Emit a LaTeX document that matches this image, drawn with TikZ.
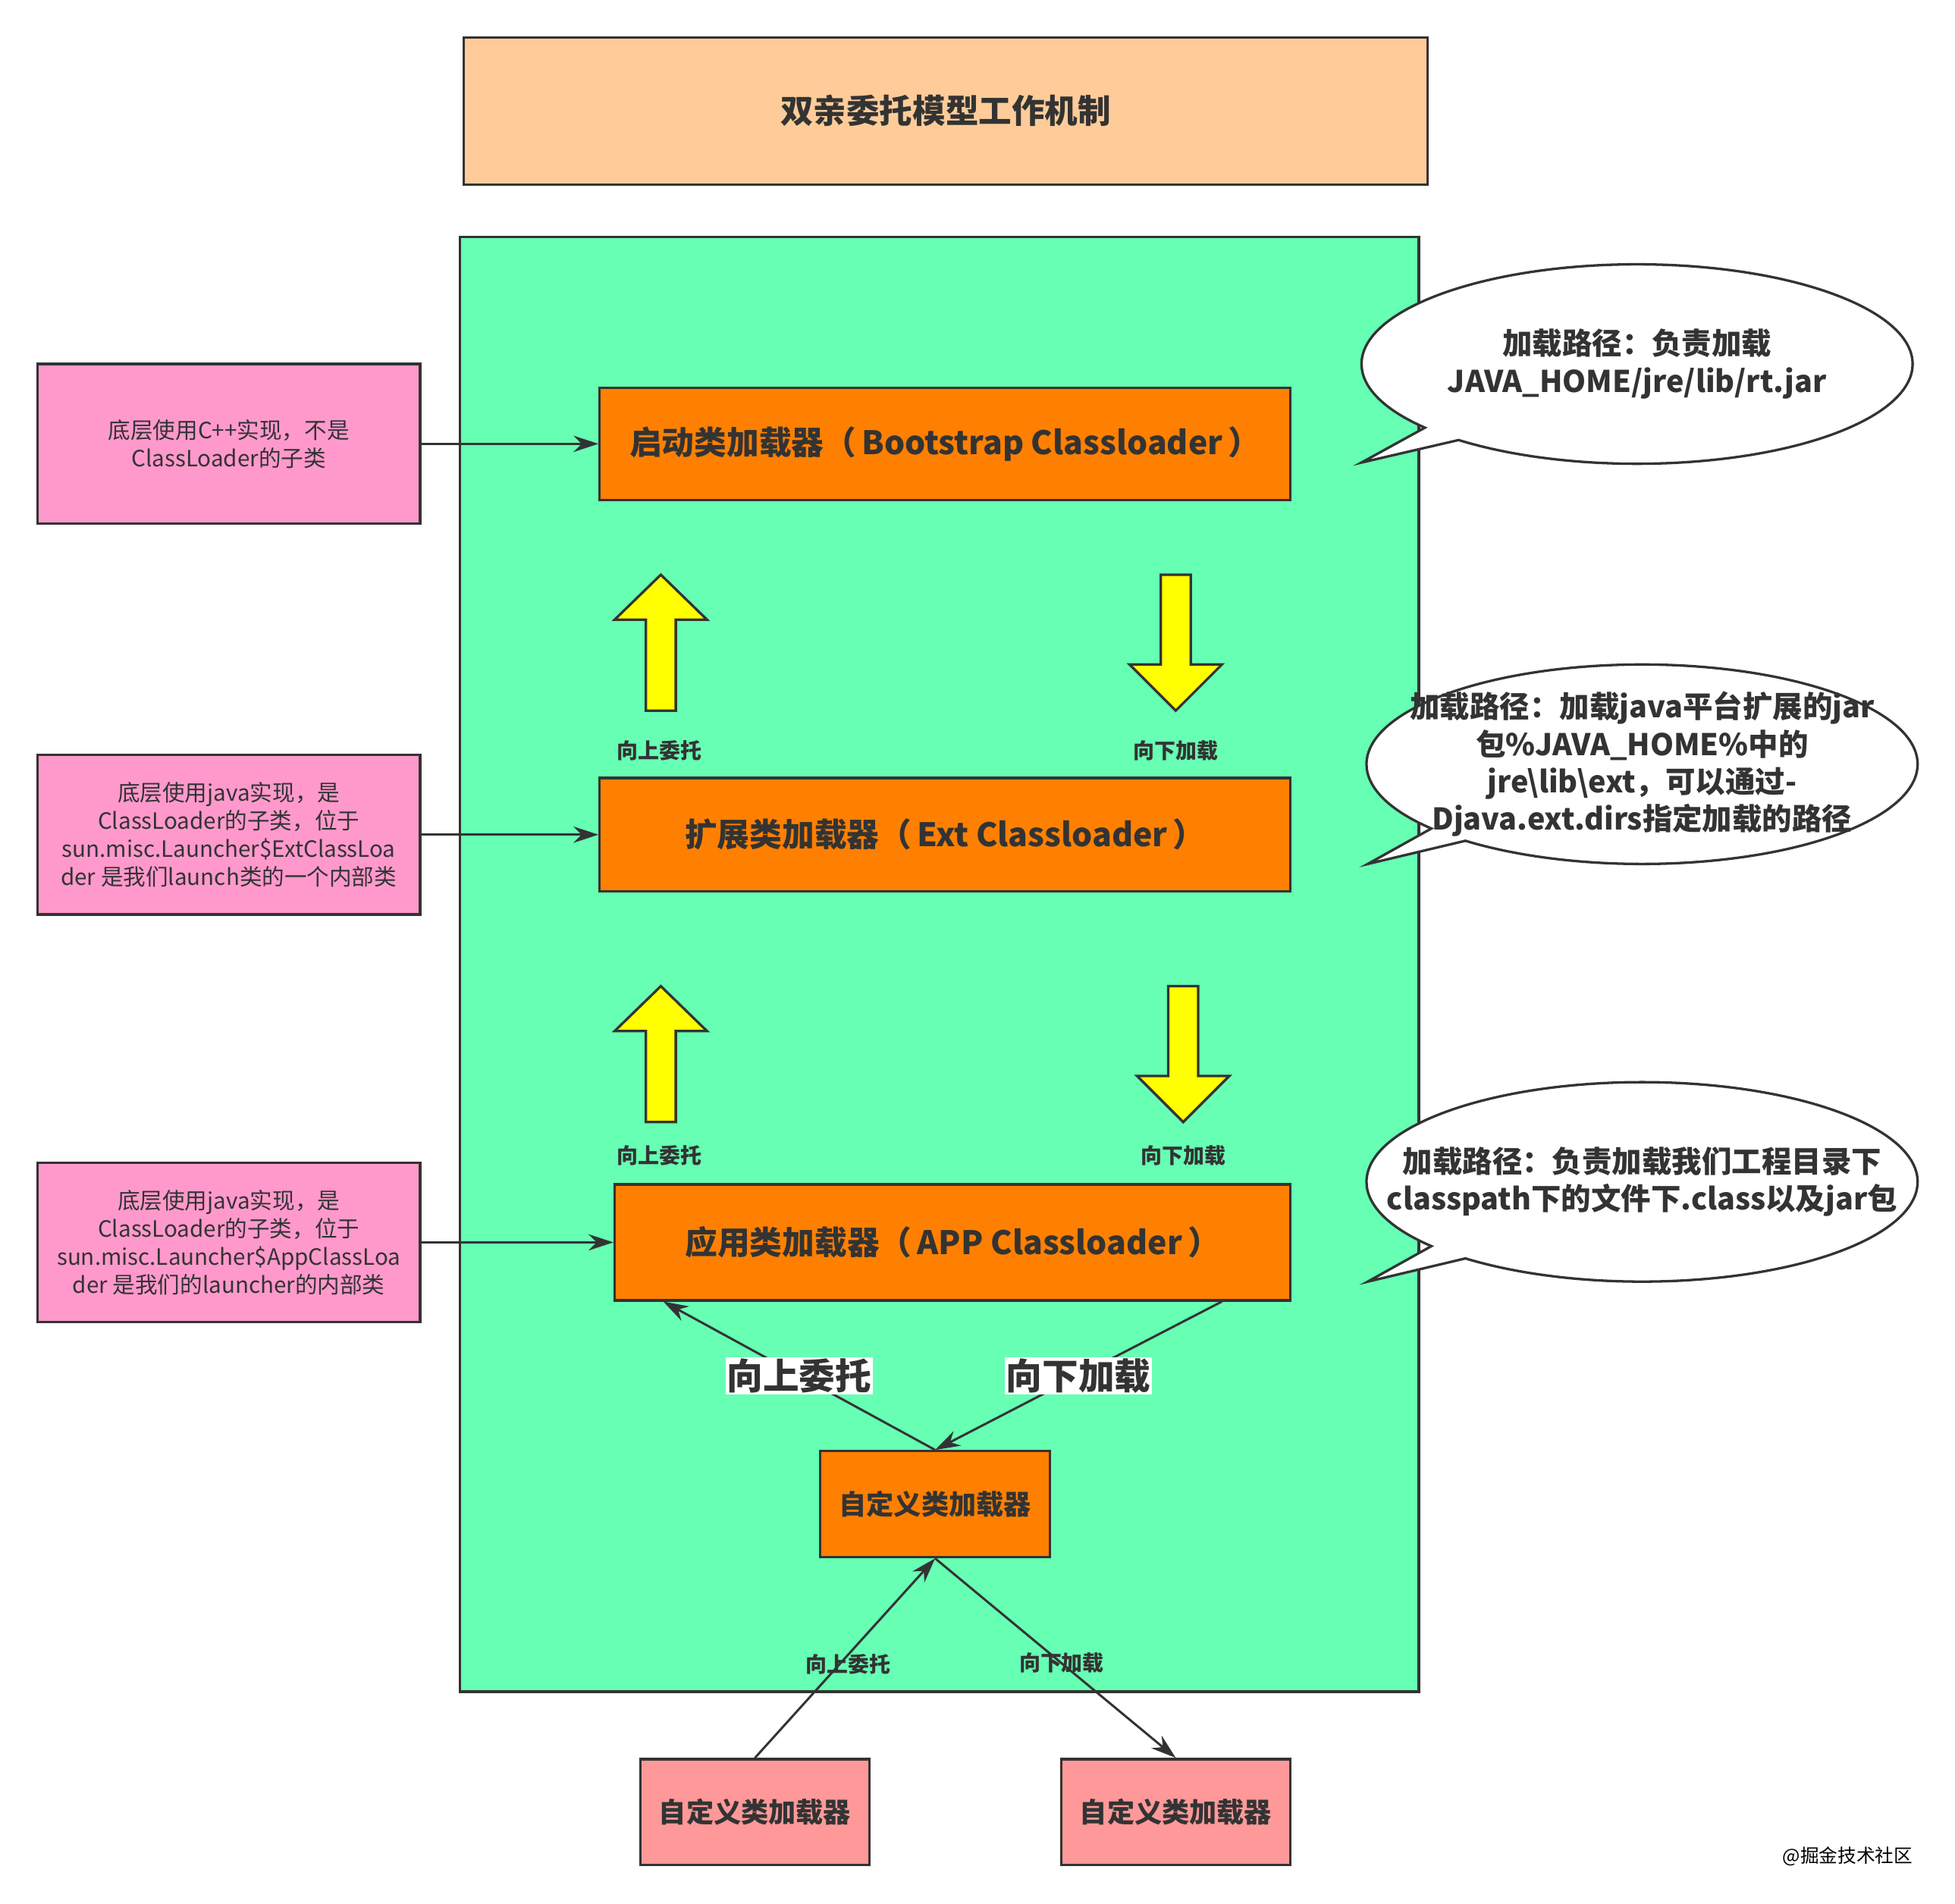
\documentclass[tikz,border=0pt]{standalone}
\usepackage{fontspec}
\setmainfont{Noto Sans CJK SC}
\usepackage{xcolor}
\definecolor{title-peach}{HTML}{FFCC99}
\definecolor{frame-green}{HTML}{66FFB3}
\definecolor{loader-orange}{HTML}{FF8000}
\definecolor{note-pink}{HTML}{FF99CC}
\definecolor{child-salmon}{HTML}{FF9999}
\definecolor{block-yellow}{HTML}{FFFF00}
\definecolor{line-gray}{HTML}{333333}
\usepackage{tikz}
\usetikzlibrary{shapes.callouts,arrows.meta}

\tikzset{
  box/.style={draw=line-gray, line width=2pt, text=line-gray, align=center},
  loader/.style={box, fill=loader-orange, font=\bfseries\fontsize{26}{30}\selectfont},
  custom/.style={box, minimum width=184pt, minimum height=85pt, font=\bfseries\fontsize{22}{26}\selectfont},
  note/.style={box, fill=note-pink, minimum width=307pt, minimum height=128pt, font=\fontsize{18}{22.5}\selectfont},
  bubble/.style={ellipse callout, draw=line-gray, line width=2pt, fill=white, minimum width=442pt, minimum height=160pt, callout pointer arc=10},
  bubtext/.style={text=line-gray, align=center, font=\bfseries\fontsize{24}{30}\selectfont},
  small/.style={text=line-gray, font=\bfseries\fontsize{17}{20}\selectfont},
  conn/.style={draw=line-gray, line width=1.8pt, -{Stealth[length=20pt,width=13pt]}},
  yblock/.style={draw=line-gray, line width=2pt, fill=block-yellow},
  upblock/.pic={\path[yblock] (0,0) -- (37,36) -- (12,36) -- (12,109) -- (-12,109) -- (-12,36) -- (-37,36) -- cycle;},
  downblock/.pic={\path[yblock] (0,0) -- (37,-37) -- (12,-37) -- (12,-109) -- (-12,-109) -- (-12,-37) -- (-37,-37) -- cycle;}
}

\begin{document}
\begin{tikzpicture}[x=1pt,y=-1pt]

  \useasboundingbox (0,0) rectangle (1568,1527);

  % Title
  \node[box, fill=title-peach, minimum width=773pt, minimum height=118pt,
        font=\bfseries\fontsize{26.5}{31}\selectfont] (title) at (758.5,89) {双亲委托模型工作机制};

  % Green frame
  \node[box, fill=frame-green, minimum width=769pt, minimum height=1167pt] (frame) at (753.5,773.5) {};

  % Loaders
  \node[loader, minimum width=554pt, minimum height=90pt] (boot) at (758,356) {启动类加载器（\,Bootstrap Classloader\,）};
  \node[loader, minimum width=554pt, minimum height=91pt] (ext) at (758,669.5) {扩展类加载器（\,Ext Classloader\,）};
  \node[loader, minimum width=542pt, minimum height=93pt] (app) at (764,996.5) {应用类加载器（\,APP Classloader\,）};
  \node[custom, fill=loader-orange] (cust) at (750,1206.5) {自定义类加载器};
  \node[custom, fill=child-salmon] (custl) at (605.5,1453.5) {自定义类加载器};
  \node[custom, fill=child-salmon] (custr) at (943,1453.5) {自定义类加载器};

  % Yellow arrows
  \pic at (530,461) {upblock};
  \pic at (943,570) {downblock};
  \pic at (530,791) {upblock};
  \pic at (949,900) {downblock};
  \node[small] (upa) at (529,602) {向上委托};
  \node[small] (downa) at (943,602) {向下加载};
  \node[small] (upb) at (529,927) {向上委托};
  \node[small] (downb) at (949,927) {向下加载};

  % Notes on the left
  \node[note] (nboot) at (183.5,356) {底层使用C++实现，不是\\ClassLoader的子类};
  \node[note] (next) at (183.5,669.5) {底层使用java实现，是\\ClassLoader的子类，位于\\sun.misc.Launcher\$ExtClassLoa\\der 是我们launch类的一个内部类};
  \node[note] (napp) at (183.5,996.5) {底层使用java实现，是\\ClassLoader的子类，位于\\sun.misc.Launcher\$AppClassLoa\\der 是我们的launcher的内部类};
  \draw[conn] (nboot) -- (boot);
  \draw[conn] (next) -- (ext);
  \draw[conn] (napp) -- (app);

  % Callouts on the right
  \node[bubble, callout absolute pointer={(1092,371)}] (bboot) at (1313,292) {};
  \node[bubble, callout absolute pointer={(1097,693)}] (bext) at (1317,613) {};
  \node[bubble, callout absolute pointer={(1097,1028)}] (bapp) at (1317,948) {};
  \node[bubtext] at (bboot.center) {加载路径：负责加载\\JAVA\_HOME/jre/lib/rt.jar};
  \node[bubtext] at (bext.center) {加载路径：加载java平台扩展的jar\\包\%JAVA\_HOME\%中的\\jre\textbackslash lib\textbackslash ext，可以通过-\\Djava.ext.dirs指定加载的路径};
  \node[bubtext] at (bapp.center) {加载路径：负责加载我们工程目录下\\classpath下的文件下.class以及jar包};

  % Custom loader links
  \draw[conn] (cust.north) -- ([xshift=40pt]app.south west)
    node[midway, fill=white, inner sep=1pt, text=line-gray, font=\bfseries\fontsize{29}{32}\selectfont] {向上委托};
  \draw[conn] ([xshift=-56pt]app.south east) -- (cust.north)
    node[midway, fill=white, inner sep=1pt, text=line-gray, font=\bfseries\fontsize{29}{32}\selectfont] {向下加载};
  \draw[conn] (custl.north) -- (cust.south) node[small, pos=0.47, xshift=7pt] {向上委托};
  \draw[conn] (cust.south) -- (custr.north) node[small, midway, xshift=5pt, yshift=-4pt] {向下加载};

  % Watermark
  \node[text=black, font=\fontsize{15}{18}\selectfont] (mark) at (1482,1489) {@掘金技术社区};

\end{tikzpicture}
\end{document}
